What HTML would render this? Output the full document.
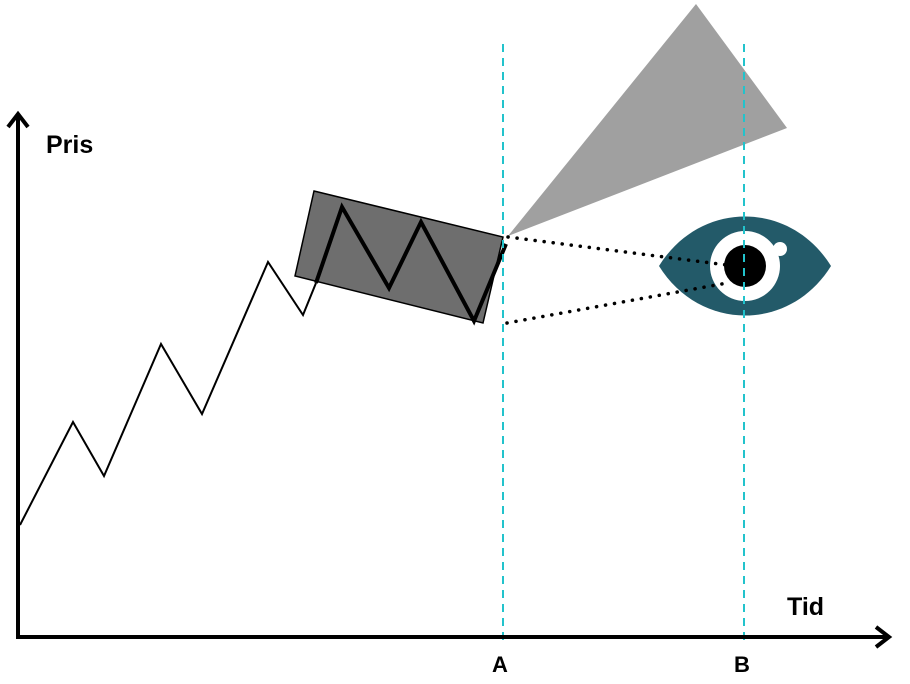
<!DOCTYPE html>
<html><head><style>body{margin:0;background:#fff}svg{display:block}text{font-family:"Liberation Sans",sans-serif;font-weight:bold}</style></head>
<body>
<svg width="910" height="684" viewBox="0 0 910 684">
<polygon points="508,236 696,4 787,128" fill="#a0a0a0"/>
<polygon points="314,191 503,237 483,323 295,276" fill="#6e6e6e" stroke="#000" stroke-width="1.5"/>
<polyline points="20,525 73,422 104,476 161,344 202,414 268,262 303,315 316,283" fill="none" stroke="#000" stroke-width="2"/>
<polyline points="316,283 342,207 389,288 421,222 474,321 506,244" fill="none" stroke="#000" stroke-width="4" stroke-linejoin="miter"/>
<path d="M659,266 C700,200 790,200 831,266 C790,332 700,332 659,266 Z" fill="#235a69"/>
<circle cx="745" cy="266" r="35" fill="#fff"/>
<circle cx="780" cy="249" r="7" fill="#fff"/>
<circle cx="745" cy="266" r="21" fill="#000"/>
<line x1="508" y1="237" x2="727" y2="265" stroke="#000" stroke-width="3.5" stroke-dasharray="0.1 9" stroke-linecap="round"/>
<line x1="507" y1="323" x2="727" y2="283" stroke="#000" stroke-width="3.5" stroke-dasharray="0.1 9" stroke-linecap="round"/>
<line x1="503" y1="44" x2="503" y2="640" stroke="#22c3cc" stroke-width="2" stroke-dasharray="8 6"/>
<line x1="744" y1="44" x2="744" y2="640" stroke="#22c3cc" stroke-width="2" stroke-dasharray="8 6"/>
<line x1="18" y1="639" x2="18" y2="114" stroke="#000" stroke-width="4"/>
<polyline points="8,127 18,114 28,127" fill="none" stroke="#000" stroke-width="4"/>
<line x1="16" y1="637" x2="888" y2="637" stroke="#000" stroke-width="4"/>
<polyline points="876,627 889,637 876,647" fill="none" stroke="#000" stroke-width="4"/>
<text x="46" y="153" font-size="25">Pris</text>
<text x="787" y="615" font-size="25">Tid</text>
<text x="492" y="672" font-size="22">A</text>
<text x="734" y="672" font-size="22">B</text>
</svg>
</body></html>
